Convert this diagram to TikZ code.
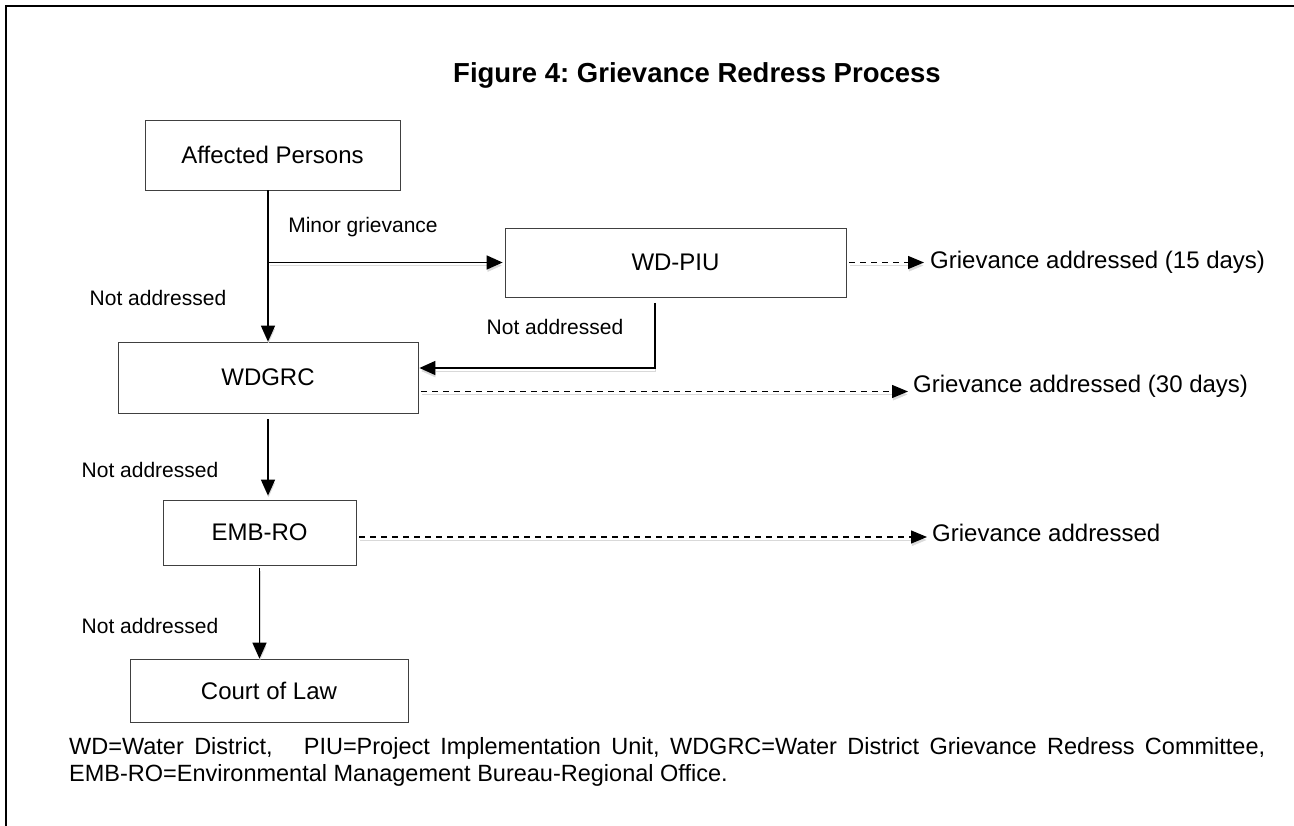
\documentclass[tikz,border=0pt]{standalone}
\usepackage{fontspec}
\setmainfont{Liberation Sans}
\usetikzlibrary{arrows.meta,positioning}
\frenchspacing

\begin{document}
\begin{tikzpicture}[x=1pt,y=-1pt]
\tikzstyle{box}=[draw=black!75,line width=0.8pt,inner sep=0pt,font=\fontsize{24}{28}\selectfont];
\tikzstyle{lbl}=[inner sep=0pt,font=\fontsize{21}{25}\selectfont];
\tikzstyle{res}=[inner sep=0pt,anchor=west,font=\fontsize{24}{28}\selectfont];
\tikzstyle{shd}=[preaction={draw=black!15,transform canvas={shift={(0.5pt,-3pt)}}}];
\tikzstyle{arr}=[shd,line width=1.5pt,-{Triangle[length=16pt,width=14pt]}];
\tikzstyle{darr}=[arr,line width=1.3pt,dash pattern=on 6pt off 5pt,-{Triangle[length=16pt,width=13pt]}];

\useasboundingbox (0,0) rectangle (1294,826);
\draw[line width=2.4pt] (6,840) -- (6,6) -- (1310,6);

\node[font=\bfseries\fontsize{27.5}{32}\selectfont] (title) at (697,75) {Figure 4: Grievance Redress Process};

% boxes
\node[box,minimum width=255,minimum height=70] (ap) at (272.5,155) {Affected Persons};
\node[box,minimum width=341,minimum height=69] (piu) at (675.5,262.5) {WD-PIU};
\node[box,minimum width=300,minimum height=71] (grc) at (268,377.5) {WDGRC};
\node[box,minimum width=193,minimum height=65] (emb) at (259.5,532.5) {EMB-RO};
\node[box,minimum width=278,minimum height=63] (court) at (269,690.5) {Court of Law};

% outcomes
\node[res] (g15) at (930,262) {Grievance addressed (15 days)};
\node[res] (g30) at (913,386) {Grievance addressed (30 days)};
\node[res] (g0) at (932,533) {Grievance addressed};

% labels
\node[lbl] (minor) at (363,227) {Minor grievance};
\node[lbl] (na1) at (158,298) {Not addressed};
\node[lbl] (na2) at (555,327) {Not addressed};
\node[lbl] (na3) at (150,470) {Not addressed};
\node[lbl] (na4) at (150,626) {Not addressed};

% main flow
\draw[arr] (grc.north |- ap.south) -- (grc.north);
\coordinate (mg) at (grc.north |- piu.west);
\draw[arr,shorten <=1pt,shorten >=2pt] (mg) -- (piu.west);
\coordinate (pb) at (655,303);
\coordinate (pc) at (655,368);
\draw[arr,shorten >=1pt] (pb) -- (pc) -- (grc.east |- pc);
\draw[arr,shorten <=6pt,shorten >=4pt] (grc.south) -- (grc.south |- emb.north);
\draw[arr,shorten <=3pt] (emb.south) -- (emb.south |- court.north);

% addressed
\draw[darr,shorten <=3pt,shorten >=6pt] (piu.east) -- (piu.east -| g15.west);
\draw[darr,shorten <=3pt,shorten >=5pt] ([yshift=-14pt]grc.east) -- ([yshift=-14pt]grc.east -| g30.west);
\draw[darr,shorten <=3pt,shorten >=5pt] ([yshift=-4.5pt]emb.east) -- ([yshift=-4.5pt]emb.east -| g0.west);

\node[anchor=north west,inner sep=0pt,text width=1196pt,align=justify,font=\fontsize{23.5}{27}\selectfont] (note) at (69,737)
  {WD=Water District,\ \ \ PIU=Project Implementation Unit, WDGRC=Water District Grievance Redress Committee,\linebreak
   EMB-RO=Environmental Management Bureau-Regional Office.};
\end{tikzpicture}
\end{document}
